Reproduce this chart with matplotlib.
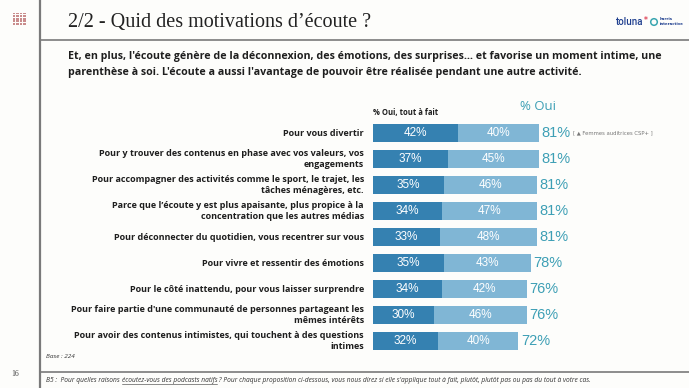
import matplotlib
matplotlib.use("Agg")
import matplotlib.pyplot as plt
from matplotlib.patches import Rectangle, Circle
from matplotlib.lines import Line2D

categories = [
    "Pour vous divertir",
    "Pour y trouver des contenus en phase avec vos valeurs, vos\nengagements",
    "Pour accompagner des activités comme le sport, le trajet, les\ntâches ménagères, etc.",
    "Parce que l’écoute y est plus apaisante, plus propice à la\nconcentration que les autres médias",
    "Pour déconnecter du quotidien, vous recentrer sur vous",
    "Pour vivre et ressentir des émotions",
    "Pour le côté inattendu, pour vous laisser surprendre",
    "Pour faire partie d'une communauté de personnes partageant les\nmêmes intérêts",
    "Pour avoir des contenus intimistes, qui touchent à des questions\nintimes",
]
tout_a_fait = [42, 37, 35, 34, 33, 35, 34, 30, 32]
plutot = [40, 45, 46, 47, 48, 43, 42, 46, 40]
total_oui = [81, 81, 81, 81, 81, 78, 76, 76, 72]

W, H = 689, 388
BG = "#fdfdfb"
DARK = "#3581b1"
LIGHT = "#80b6d5"
TEAL = "#3d9fb5"
TXT = "#1e1e1e"
FONT = "Open Sans"

fig = plt.figure(figsize=(W / 100, H / 100), dpi=100, facecolor=BG)

# overlay axes in pixel coordinates
ov = fig.add_axes([0, 0, 1, 1])
ov.set_xlim(0, W)
ov.set_ylim(H, 0)
ov.axis("off")
ov.set_zorder(0)

# frame lines
ov.add_line(Line2D([40, 40], [0, H], color="#7a7a7a", lw=1.6))
ov.add_line(Line2D([40, W], [40, 40], color="#7a7a7a", lw=1.2))
ov.add_line(Line2D([40, W], [372, 372], color="#7a7a7a", lw=1.2))

# small icon grid
for i in range(5):
    for j in range(4):
        ov.add_patch(Rectangle((12.5 + j * 3.5, 12.5 + i * 2.6), 2.6, 1.9,
                               color="#c98c8c", lw=0))

ov.text(15, 374, "16", fontsize=5.5, color="#444444", ha="center", va="center",
        family="Liberation Serif")

# title
ov.text(68, 23, "2/2 - Quid des motivations d’écoute ?", fontsize=14.5,
        family="Liberation Serif", color="#222222", ha="left", va="center")

# logo
ov.text(643, 22, "toluna", fontsize=7, color="#1f3f8f", ha="right",
        va="center", family="Roboto", fontweight="medium")
ov.text(646, 21, "*", fontsize=5.5, color="#e0465a", ha="center", va="center",
        fontweight="bold")
ov.add_patch(Circle((654, 22), 3.3, fill=False, ec="#3aa6b0", lw=1.1))
ov.text(660, 19.5, "harris", fontsize=2.8, color="#1f3f8f", ha="left",
        va="center", fontweight="bold")
ov.text(660, 24.3, "interactive", fontsize=2.8, color="#1f3f8f", ha="left",
        va="center", fontweight="bold")

# subtitle
ov.text(68, 57, "Et, en plus, l'écoute génère de la déconnexion, des émotions, des surprises… et favorise un moment intime, une",
        fontsize=7.7, fontweight="bold", family=FONT, color=TXT, ha="left", va="center")
ov.text(68, 72, "parenthèse à soi. L'écoute a aussi l'avantage de pouvoir être réalisée pendant une autre activité.",
        fontsize=7.7, fontweight="bold", family=FONT, color=TXT, ha="left", va="center")

# headers
ov.text(373, 113, "% Oui, tout à fait", fontsize=5.5, fontweight="bold",
        family=FONT, color=TXT, ha="left", va="center")
ov.text(538, 106, "% Oui", fontsize=9.5, family=FONT, color=TEAL,
        ha="center", va="center")
ov.text(573, 133, "[ ▲ Femmes auditrices CSP+ ]", fontsize=3.8,
        color="#777777", ha="left", va="center", family="DejaVu Sans")

# base and footnote
FS_FOOT = 4.8
ov.text(46, 356, "Base : 224", fontsize=4.6, style="italic", family=FONT,
        color="#333333", ha="left", va="center")
foot_a = "B5 :  Pour quelles raisons "
foot_b = "écoutez-vous des podcasts natifs"
foot_c = " ? Pour chaque proposition ci-dessous, vous nous direz si elle s'applique tout à fait, plutôt, plutôt pas ou pas du tout à votre cas."
t1 = ov.text(46, 380, foot_a, fontsize=FS_FOOT, style="italic", family=FONT,
             color="#333333", ha="left", va="center")
fig.canvas.draw()
r = fig.canvas.get_renderer()
bb = t1.get_window_extent(r)
x_b = 46 + bb.width
t2 = ov.text(x_b, 380, foot_b, fontsize=FS_FOOT, style="italic", family=FONT,
             color="#333333", ha="left", va="center")
bb2 = t2.get_window_extent(r)
ov.add_line(Line2D([x_b, x_b + bb2.width], [383.5, 383.5], color="#333333", lw=0.4))
ov.text(x_b + bb2.width, 380, foot_c, fontsize=FS_FOOT, style="italic", family=FONT,
        color="#333333", ha="left", va="center")

# bar axes: x 0..100 -> 373..575 px ; rows 120..354 px
left_px, right_px = 373, 575
top_px, bot_px = 120, 354
ax = fig.add_axes([left_px / W, 1 - bot_px / H, (right_px - left_px) / W,
                   (bot_px - top_px) / H])
ax.set_zorder(1)
ax.patch.set_alpha(0)
ax.set_xlim(0, 100)
n = len(categories)
ax.set_ylim(n - 0.5, -0.5)
ax.axis("off")

ys = list(range(n))
ax.barh(ys, tout_a_fait, height=0.69, color=DARK, edgecolor="none")
ax.barh(ys, plutot, left=tout_a_fait, height=0.69, color=LIGHT, edgecolor="none")

for y, a, b, t, lab in zip(ys, tout_a_fait, plutot, total_oui, categories):
    ax.text(a / 2, y, f"{a}%", color="white", fontsize=8.5, ha="center",
            va="center", family="Liberation Sans")
    ax.text(a + b / 2, y, f"{b}%", color="white", fontsize=8.5, ha="center",
            va="center", family="Liberation Sans")
    ax.text(a + b + 1.5, y, f"{t}%", color=TEAL, fontsize=10.5, ha="left",
            va="center", family="Liberation Sans")
    ax.text(-4.5, y, lab, color=TXT, fontsize=6.5, fontweight="bold",
            family=FONT, ha="right", va="center", multialignment="right",
            linespacing=1.25, clip_on=False)

fig.savefig("out.png", dpi=100, facecolor=BG)
